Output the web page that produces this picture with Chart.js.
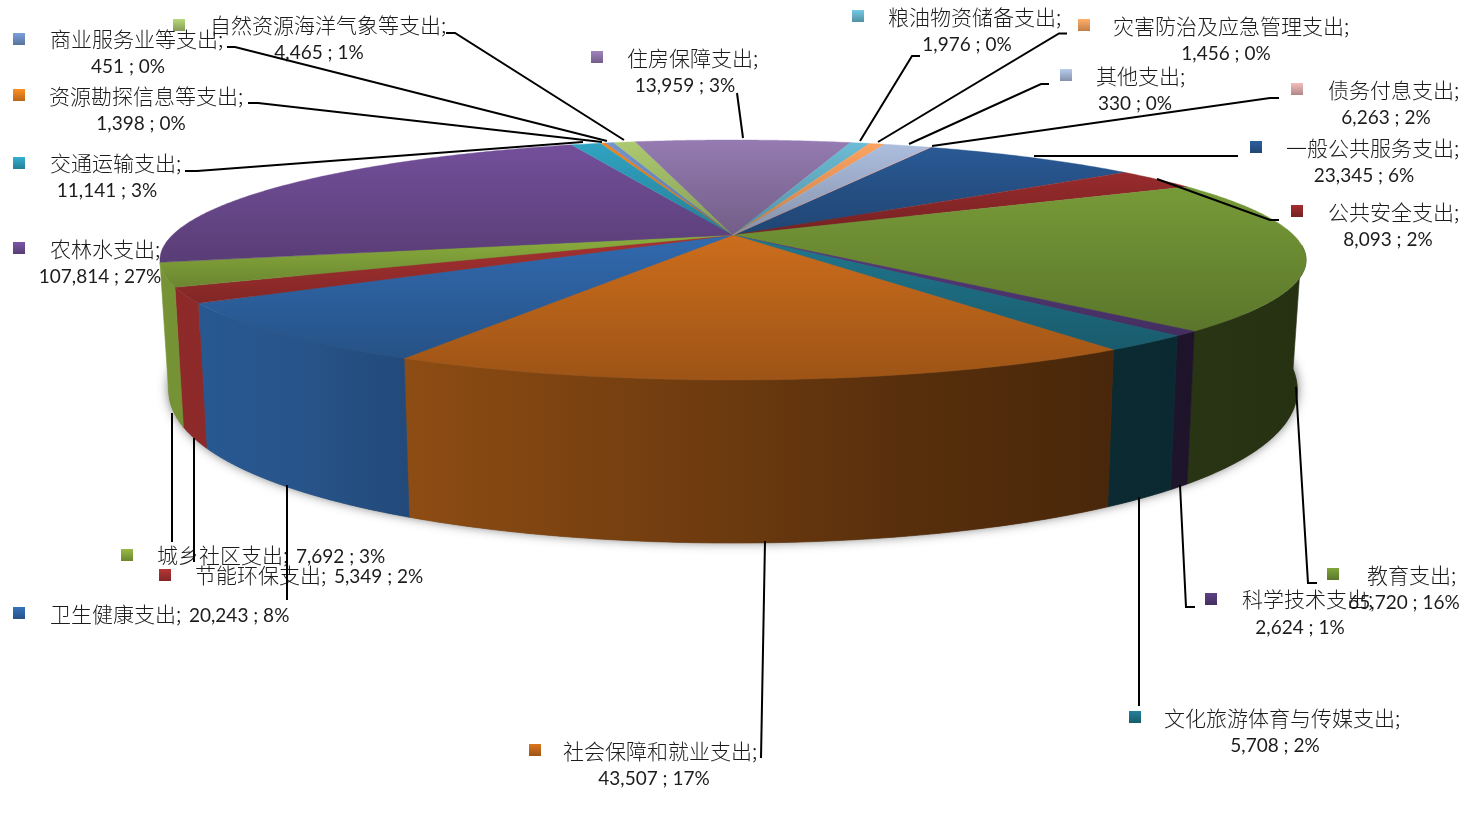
<!DOCTYPE html>
<html lang="zh">
<head>
<meta charset="utf-8">
<title>支出构成</title>
<style>html,body{margin:0;padding:0;background:#fff}canvas{display:block}</style>
<script src="https://cdn.jsdelivr.net/npm/chart.js@4"></script>
</head>
<body>
<canvas id="c" width="1465" height="837"></canvas>
<script>
// Categories in drawing order, clockwise.
const categories = ['一般公共服务支出','公共安全支出','教育支出','科学技术支出','文化旅游体育与传媒支出','社会保障和就业支出','卫生健康支出','节能环保支出','城乡社区支出','农林水支出','交通运输支出','资源勘探信息等支出','商业服务业等支出','自然资源海洋气象等支出','住房保障支出','粮油物资储备支出','灾害防治及应急管理支出','其他支出','债务付息支出'];
// Values and percentages exactly as printed in the data labels.
const printedValues = [23345,8093,65720,2624,5708,43507,20243,5349,7692,107814,11141,1398,451,4465,13959,1976,1456,330,6263];
const printedPercents = [6,2,16,1,2,17,8,2,3,27,3,0,0,1,3,0,0,0,2];
// Wedge sizes (% of the disc): the printed labels do not agree with the drawn wedges.
const wedgeShares = [7.58,2.94,20.25,0.67,2.19,17.46,8.18,2.04,3.18,23.06,1.03,0.17,0.28,0.75,7.42,0.67,0.53,1.61,0.03];
const sliceColors = ['#28568F','#92292A','#729436','#543A78','#1F7288','#C4691B','#2F66A8','#A33030','#86A83C','#6F4C94','#2E9DBB','#E8801E','#6F8FC4','#A5C26C','#8F76AA','#68B4CD','#F39D5D','#A5B6D5','#DBA9A8'];

// Label layout: key centre x,y / name x,y / figure x,y / figure alignment
const labelLayout = [
 [1256,147,1286,148,1364,176,'center'],[1297,211,1328,212,1388,240,'center'],[1333,574,1367,575,1404,603,'center'],
 [1211,599,1242,599,1300,628,'center'],[1135,717,1164,718,1275,746,'center'],[535,750,563,751,654,779,'center'],
 [19,613,50,614,189,616,'left'],[165,575,195,575,334,577,'left'],[127,555,157,555,296,557,'left'],
 [19,248,50,249,100,277,'center'],[19,163,50,163,107,191,'center'],[19,95,49,96,141,124,'center'],
 [19,39,50,39,128,67,'center'],[179,25,210,25,319,53,'center'],[597,57,627,58,685,86,'center'],
 [858,16,888,17,967,45,'center'],[1084,25,1113,26,1226,54,'center'],[1066,75,1096,76,1135,104,'center'],[1297,89,1328,90,1386,118,'center']
];
const leaderLines = [
 [[1238,156],[1034,156]],[[1279,220],[1270,220],[1157,179]],[[1317,583],[1308,583],[1296,387]],
 [[1195,607],[1186,607],[1180,485]],[[1139,706],[1139,497]],[[761,758],[765,541]],
 [[287,600],[287,485]],[[194,562],[194,438]],[[172,542],[172,413]],
 [[185,171],[197,171],[583,142]],[[248,103],[258,103],[602,142]],[[227,47],[235,47],[607,141]],
 [[446,33],[455,33],[624,140]],[[737,93],[743,138]],[[920,56],[912,56],[860,141]],
 [[1067,33.5],[1059,33.5],[878,142]],[[1049,84],[1041,84],[909,144]],[[1279,98],[1270,98],[932,146]]
];

const CJK = '"Noto Sans CJK SC","Noto Sans",sans-serif';
const NUM = 'Lato,"Open Sans",sans-serif';
const P = {cx:733, cy:235, A:560.5, a:114.8, c:-0.2083, A2:552, yb:354.4, ab:166, cb:-0.12};

const topPt = (th,r=1)=>{const u=r*Math.sin(th),v=-r*Math.cos(th),d=1+P.c*v;return [P.cx+P.A*u/d,P.cy+P.a*v/d];};
const botPt = th=>{const u=Math.sin(th),v=-Math.cos(th);return [P.cx+P.A2*u/(1+P.c*v),P.yb+P.ab*v/(1+P.cb*v)];};
const shade = (hex,k)=>{const n=parseInt(hex.slice(1),16);const f=s=>Math.max(0,Math.min(255,Math.round(((n>>s)&255)*k)));return `rgb(${f(16)},${f(8)},${f(0)})`;};
const sweep = (a,b)=>{const out=[];const st=Math.PI/360;for(let t=a;t<b;t+=st)out.push(t);out.push(b);return out;};
const WALL_STOPS=[[0,0.88],[0.122,0.82],[0.218,0.72],[0.497,0.55],[0.645,0.45],[0.83,0.37],[1,0.33]];

const pie3d = {
 id:'pie3d',
 beforeDatasetsDraw(chart){
  const ctx=chart.ctx, arcs=chart.getDatasetMeta(0).data, colors=chart.data.datasets[0].backgroundColor;
  const ang=el=>[el.startAngle+Math.PI/2, el.endAngle+Math.PI/2];
  ctx.save();
  // soft shadow below the drum
  ctx.save();
  ctx.shadowColor='rgba(50,50,50,0.7)';ctx.shadowBlur=11;ctx.shadowOffsetY=-1;
  ctx.fillStyle='#666';ctx.beginPath();
  sweep(0,Math.PI*2).forEach((t,i)=>{const p=botPt(t);i?ctx.lineTo(p[0],p[1]):ctx.moveTo(p[0],p[1]);});
  ctx.closePath();ctx.fill();ctx.restore();
  // side walls
  const lo=95*Math.PI/180, hi=257*Math.PI/180, minSweep=0.5*Math.PI/180;
  arcs.forEach((el,i)=>{
   const tw=Math.PI*2;const [s0,e0]=ang(el);
   [0,tw,-tw].forEach(off=>{
    const s=Math.max(s0+off,lo),e=Math.min(e0+off,hi);
    if(e-s<minSweep)return;
    const g=ctx.createLinearGradient(160,0,1306,0);
    WALL_STOPS.forEach(w=>g.addColorStop(w[0],shade(colors[i],w[1])));
    const ts=sweep(s,e);
    ctx.beginPath();
    ts.forEach((t,j)=>{const p=topPt(t);j?ctx.lineTo(p[0],p[1]):ctx.moveTo(p[0],p[1]);});
    ts.slice().reverse().forEach(t=>{const p=botPt(t);ctx.lineTo(p[0],p[1]);});
    ctx.closePath();ctx.fillStyle=g;ctx.fill();
    ctx.strokeStyle=g;ctx.lineWidth=0.6;ctx.stroke();
   });
  });
  // top face
  arcs.forEach((el,i)=>{
   const [s,e]=ang(el);
   const pts=sweep(s,e).map(t=>topPt(t));
   const ys=pts.map(p=>p[1]).concat(P.cy);
   const g=ctx.createLinearGradient(0,Math.min(...ys),0,Math.max(...ys));
   g.addColorStop(0,shade(colors[i],1.04));g.addColorStop(1,shade(colors[i],0.8));
   ctx.beginPath();ctx.moveTo(P.cx,P.cy);
   pts.forEach(p=>ctx.lineTo(p[0],p[1]));
   ctx.closePath();ctx.fillStyle=g;ctx.fill();
   ctx.strokeStyle=g;ctx.lineWidth=0.4;ctx.stroke();
  });
  ctx.restore();
  return false;
 },
 afterDraw(chart){
  const ctx=chart.ctx, colors=chart.data.datasets[0].backgroundColor;
  ctx.save();
  categories.forEach((cat,i)=>{
   const L=labelLayout[i];
   const g=ctx.createLinearGradient(0,L[1]-6,0,L[1]+6);
   g.addColorStop(0,shade(colors[i],1.12));g.addColorStop(1,shade(colors[i],0.8));
   ctx.fillStyle=g;ctx.fillRect(L[0]-6,L[1]-6,12,12);
  });
  ctx.fillStyle='#1c1c1c';ctx.textBaseline='middle';
  categories.forEach((cat,i)=>{
   const L=labelLayout[i];
   ctx.font='300 21px '+CJK;ctx.textAlign='left';
   ctx.fillText(cat+';',L[2],L[3]);
   ctx.font='19px '+NUM;ctx.textAlign=L[6];
   ctx.fillText(printedValues[i].toLocaleString('en-US')+' ; '+printedPercents[i]+'%',L[4],L[5]);
  });
  ctx.strokeStyle='#000';ctx.lineWidth=2;ctx.lineJoin='miter';
  leaderLines.forEach(l=>{
   ctx.beginPath();l.forEach((p,j)=>j?ctx.lineTo(p[0],p[1]):ctx.moveTo(p[0],p[1]));ctx.stroke();
  });
  ctx.restore();
 }
};

new Chart(document.getElementById('c'),{
 type:'pie',
 data:{labels:categories,datasets:[{data:wedgeShares,backgroundColor:sliceColors,borderWidth:0}]},
 options:{responsive:false,animation:false,rotation:24.8,
  plugins:{legend:{display:false},tooltip:{enabled:false}}},
 plugins:[pie3d]
});
</script>
</body>
</html>
